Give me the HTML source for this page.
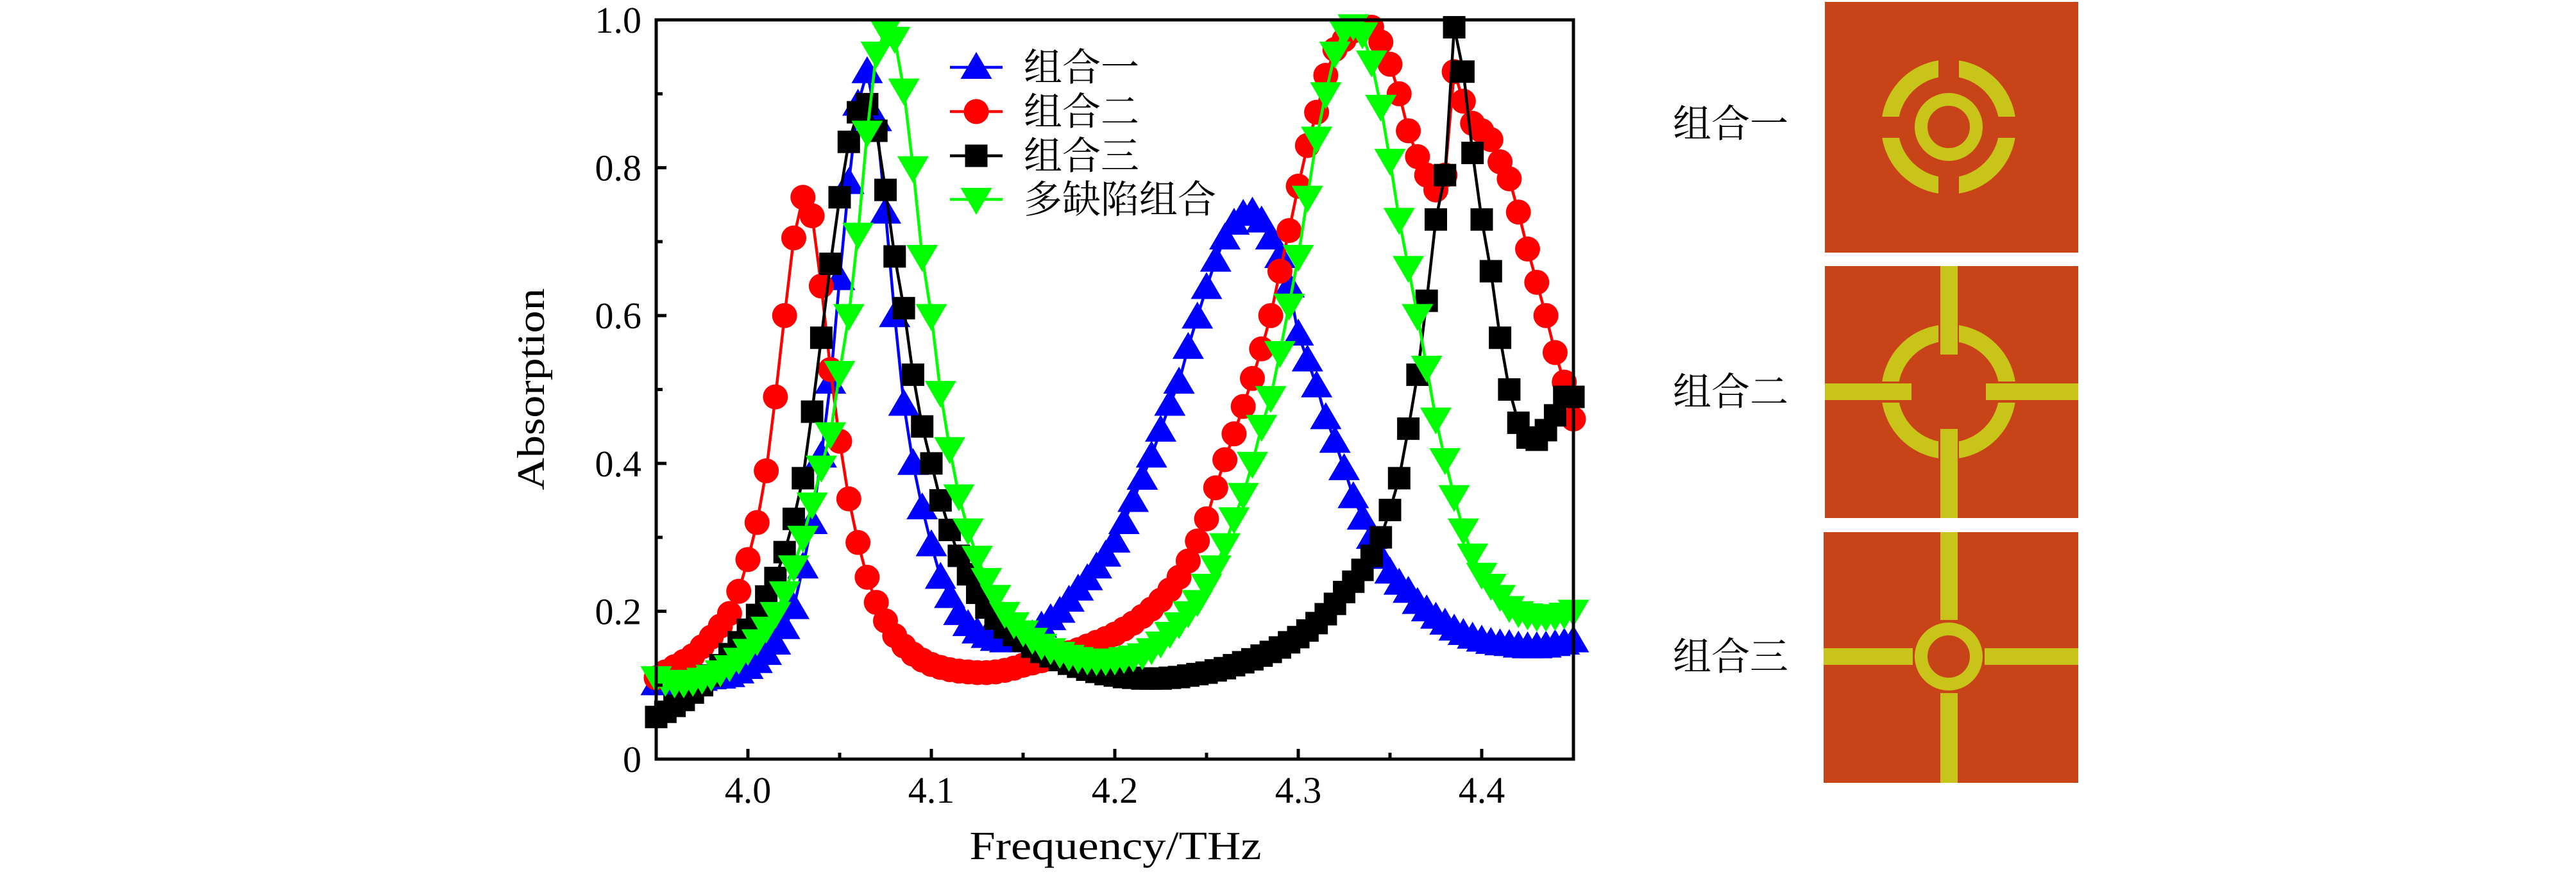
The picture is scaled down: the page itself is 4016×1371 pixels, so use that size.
<!DOCTYPE html>
<html><head><meta charset="utf-8"><title>Absorption spectra</title>
<style>
html,body{margin:0;padding:0;background:#fff;}
svg{display:block;}
</style></head>
<body>
<svg id="chart" width="4016" height="1371" viewBox="0 0 4016 1371" xmlns="http://www.w3.org/2000/svg">
  <rect x="0" y="0" width="4016" height="1371" fill="#fff"/>
  <g id="plot"></g>
  <rect x="1023" y="31" width="1430" height="1153" fill="none" stroke="#000" stroke-width="5"/>
  <g id="axes"></g>
  <text x="1739" y="1340" text-anchor="middle" font-family="Liberation Serif, serif" font-size="62" textLength="455" lengthAdjust="spacingAndGlyphs">Frequency/THz</text>
  <text x="0" y="0" transform="translate(848,607) rotate(-90)" text-anchor="middle" font-family="Liberation Serif, serif" font-size="60" textLength="315" lengthAdjust="spacingAndGlyphs">Absorption</text>
  <g id="legend"></g>

  <g>
    <rect x="2845" y="3" width="395" height="391" fill="#C84418"/>
    <circle cx="3038" cy="198" r="92" fill="none" stroke="#C9C41A" stroke-width="26"/>
    <rect x="3022" y="80" width="32" height="240" fill="#C84418"/>
    <rect x="2920" y="182" width="240" height="33" fill="#C84418"/>
    <circle cx="3038" cy="198" r="43" fill="none" stroke="#C9C41A" stroke-width="20"/>
  </g>
  <g>
    <rect x="2845" y="415" width="395" height="393" fill="#C84418"/>
    <circle cx="3038" cy="611" r="92" fill="none" stroke="#C9C41A" stroke-width="26"/>
    <rect x="3022" y="493" width="32" height="240" fill="#C84418"/>
    <rect x="2920" y="595" width="240" height="33" fill="#C84418"/>
    <rect x="3025" y="415" width="27" height="138" fill="#C9C41A"/>
    <rect x="3025" y="669" width="27" height="139" fill="#C9C41A"/>
    <rect x="2845" y="598" width="135" height="26" fill="#C9C41A"/>
    <rect x="3096" y="598" width="144" height="26" fill="#C9C41A"/>
  </g>
  <g>
    <rect x="2843" y="830" width="397" height="391" fill="#C84418"/>
    <rect x="3025" y="830" width="27" height="137" fill="#C9C41A"/>
    <rect x="3025" y="1081" width="27" height="140" fill="#C9C41A"/>
    <rect x="2843" y="1011" width="139" height="26" fill="#C9C41A"/>
    <rect x="3094" y="1011" width="146" height="26" fill="#C9C41A"/>
    <circle cx="3038" cy="1024" r="43" fill="none" stroke="#C9C41A" stroke-width="20"/>
  </g>
  <text x="2608" y="214" font-family="Noto Serif CJK SC, serif" font-size="60">组合一</text>
  <text x="2608" y="632" font-family="Noto Serif CJK SC, serif" font-size="60">组合二</text>
  <text x="2608" y="1045" font-family="Noto Serif CJK SC, serif" font-size="60">组合三</text>
</svg>
<script>
const NS = "http://www.w3.org/2000/svg";
const xTickValues = [4.0, 4.1, 4.2, 4.3, 4.4];
const xTickLabels = ["4.0", "4.1", "4.2", "4.3", "4.4"];
const xMinorTicks = [4.05, 4.15, 4.25, 4.35];
const yTickValues = [0, 0.2, 0.4, 0.6, 0.8, 1.0];
const yTickLabels = ["0", "0.2", "0.4", "0.6", "0.8", "1.0"];
const yMinorTicks = [0.1, 0.3, 0.5, 0.7, 0.9];
const seriesNames = ["组合一", "组合二", "组合三", "多缺陷组合"];
const freqStart = 3.95;
const freqStep = 0.005;
const blueValues = [0.102,0.102,0.103,0.104,0.106,0.108,0.110,0.111,0.113,0.118,0.124,0.132,0.143,0.157,0.178,0.205,0.26,0.32,0.41,0.51,0.65,0.78,0.886,0.93,0.865,0.74,0.60,0.48,0.40,0.34,0.29,0.246,0.22,0.197,0.182,0.172,0.166,0.162,0.160,0.160,0.162,0.168,0.18,0.19,0.20,0.215,0.23,0.244,0.26,0.276,0.295,0.32,0.35,0.38,0.41,0.445,0.48,0.51,0.557,0.598,0.638,0.675,0.705,0.725,0.737,0.74,0.728,0.705,0.68,0.64,0.575,0.54,0.505,0.462,0.43,0.393,0.355,0.326,0.30,0.273,0.253,0.238,0.227,0.212,0.202,0.192,0.184,0.176,0.17,0.165,0.161,0.158,0.156,0.155,0.153,0.152,0.152,0.153,0.155,0.157,0.16];
const redValues = [0.110,0.118,0.125,0.132,0.140,0.152,0.165,0.180,0.197,0.227,0.270,0.320,0.390,0.490,0.600,0.705,0.760,0.735,0.640,0.527,0.430,0.352,0.293,0.246,0.212,0.187,0.167,0.153,0.142,0.134,0.128,0.124,0.121,0.119,0.118,0.117,0.117,0.118,0.120,0.123,0.127,0.130,0.133,0.137,0.140,0.144,0.148,0.153,0.158,0.163,0.169,0.176,0.184,0.193,0.203,0.215,0.229,0.246,0.268,0.295,0.325,0.367,0.405,0.44,0.477,0.515,0.555,0.60,0.66,0.715,0.775,0.83,0.875,0.925,0.96,0.973,0.985,0.99,0.99,0.97,0.94,0.90,0.85,0.815,0.79,0.77,0.79,0.93,0.89,0.86,0.85,0.838,0.808,0.785,0.74,0.69,0.645,0.60,0.55,0.51,0.46];
const blackValues = [0.057,0.064,0.072,0.08,0.09,0.10,0.113,0.127,0.142,0.158,0.175,0.195,0.22,0.245,0.28,0.325,0.38,0.47,0.57,0.67,0.76,0.835,0.875,0.886,0.85,0.77,0.68,0.61,0.52,0.45,0.40,0.35,0.31,0.275,0.25,0.225,0.205,0.19,0.178,0.168,0.16,0.152,0.145,0.139,0.134,0.129,0.125,0.121,0.118,0.115,0.113,0.111,0.11,0.109,0.109,0.109,0.11,0.111,0.113,0.115,0.117,0.12,0.123,0.127,0.131,0.135,0.14,0.145,0.151,0.158,0.165,0.174,0.184,0.196,0.21,0.226,0.24,0.256,0.275,0.30,0.337,0.38,0.447,0.52,0.62,0.73,0.79,0.99,0.93,0.82,0.73,0.66,0.57,0.50,0.455,0.435,0.432,0.445,0.465,0.49,0.49];
const greenValues = [0.11,0.105,0.103,0.103,0.105,0.108,0.112,0.118,0.125,0.135,0.147,0.16,0.177,0.197,0.225,0.26,0.30,0.345,0.395,0.44,0.523,0.60,0.71,0.848,0.955,0.985,0.975,0.905,0.80,0.68,0.60,0.496,0.42,0.356,0.31,0.273,0.243,0.22,0.197,0.183,0.172,0.162,0.154,0.148,0.143,0.139,0.136,0.134,0.133,0.133,0.134,0.136,0.138,0.141,0.148,0.157,0.17,0.183,0.198,0.213,0.235,0.26,0.29,0.325,0.358,0.40,0.45,0.489,0.55,0.614,0.68,0.76,0.84,0.90,0.955,0.985,0.992,0.981,0.943,0.883,0.81,0.73,0.665,0.60,0.53,0.46,0.405,0.355,0.31,0.276,0.25,0.235,0.22,0.205,0.198,0.195,0.193,0.193,0.194,0.196,0.20];

const PX0 = 1023, PX1 = 2453, PY0 = 1184, PY1 = 31;
function xScale(f){ return PX0 + (f - 3.95) / 0.5 * (PX1 - PX0); }
function yScale(v){ return PY0 - v * (PY0 - PY1); }
function mk(tag, attrs, parent){
  const e = document.createElementNS(NS, tag);
  for (const k in attrs) e.setAttribute(k, attrs[k]);
  parent.appendChild(e);
  return e;
}
const axes = document.getElementById('axes');
xTickValues.forEach((v, i) => {
  const x = xScale(v);
  const t = mk('line', {x1:x, x2:x, y1:PY0, y2:PY0-16, stroke:'#000','stroke-width':5}, axes);
  
  
  const l = mk('text', {x:x, y:1252, 'text-anchor':'middle','font-family':'Liberation Serif, serif','font-size':58}, axes);
  
  
  l.textContent = xTickLabels[i];
});
xMinorTicks.forEach(v => {
  const x = xScale(v);
  const t = mk('line', {x1:x, x2:x, y1:PY0, y2:PY0-10, stroke:'#000','stroke-width':5}, axes);
  
  
});
yTickValues.forEach((v, i) => {
  const y = yScale(v);
  const t = mk('line', {x1:PX0, x2:PX0+16, y1:y, y2:y, stroke:'#000','stroke-width':5}, axes);
  
  
  const l = mk('text', {x:1000, y:y+20, 'text-anchor':'end','font-family':'Liberation Serif, serif','font-size':58}, axes);
  
  
  l.textContent = yTickLabels[i];
});
yMinorTicks.forEach(v => {
  const y = yScale(v);
  const t = mk('line', {x1:PX0, x2:PX0+10, y1:y, y2:y, stroke:'#000','stroke-width':5}, axes);
  
  
});

function marker(kind, x, y, color, parent){
  let e;
  if (kind === 'tri-up') {
    e = mk('polygon', {points:`${x-24.5},${y+18} ${x+24.5},${y+18} ${x},${y-24}`, fill:color}, parent);
  } else if (kind === 'tri-down') {
    e = mk('polygon', {points:`${x-24.5},${y-18} ${x+24.5},${y-18} ${x},${y+24}`, fill:color}, parent);
  } else if (kind === 'circle') {
    e = mk('circle', {cx:x, cy:y, r:19.5, fill:color}, parent);
  } else {
    e = mk('rect', {x:x-17.5, y:y-17.5, width:35, height:35, fill:color}, parent);
  }
  return e;
}
const series = [
  {name:'series-combo-1', vals:blueValues, color:'#0000ff', kind:'tri-up'},
  {name:'series-combo-2', vals:redValues, color:'#ff0000', kind:'circle'},
  {name:'series-combo-3', vals:blackValues, color:'#000000', kind:'square'},
  {name:'series-multi-defect', vals:greenValues, color:'#00ff00', kind:'tri-down'}
];
const plot = document.getElementById('plot');
series.forEach(s => {
  const g = mk('g', {}, plot);
  
  
  const pts = s.vals.map((v, i) => `${xScale(freqStart + i*freqStep)},${yScale(v)}`).join(' ');
  const line = mk('polyline', {points:pts, fill:'none', stroke:s.color, 'stroke-width':4.5, 'stroke-linejoin':'round'}, g);
  
  
  s.vals.forEach((v, i) => {
    const m = marker(s.kind, xScale(freqStart + i*freqStep), yScale(v), s.color, g);
    
    
  });
});
const legend = document.getElementById('legend');
const legendY = [105, 174, 243, 311];
series.forEach((s, i) => {
  const g = mk('g', {}, legend);
  
  
  mk('line', {x1:1481, x2:1563, y1:legendY[i], y2:legendY[i], stroke:s.color, 'stroke-width':4.5}, g);
  marker(s.kind, 1522, legendY[i], s.color, g);
  const t = mk('text', {x:1596, y:legendY[i]+21, 'font-family':'Noto Serif CJK SC, serif', 'font-size':60}, g);
  
  
  t.textContent = seriesNames[i];
});
</script>
</body></html>
